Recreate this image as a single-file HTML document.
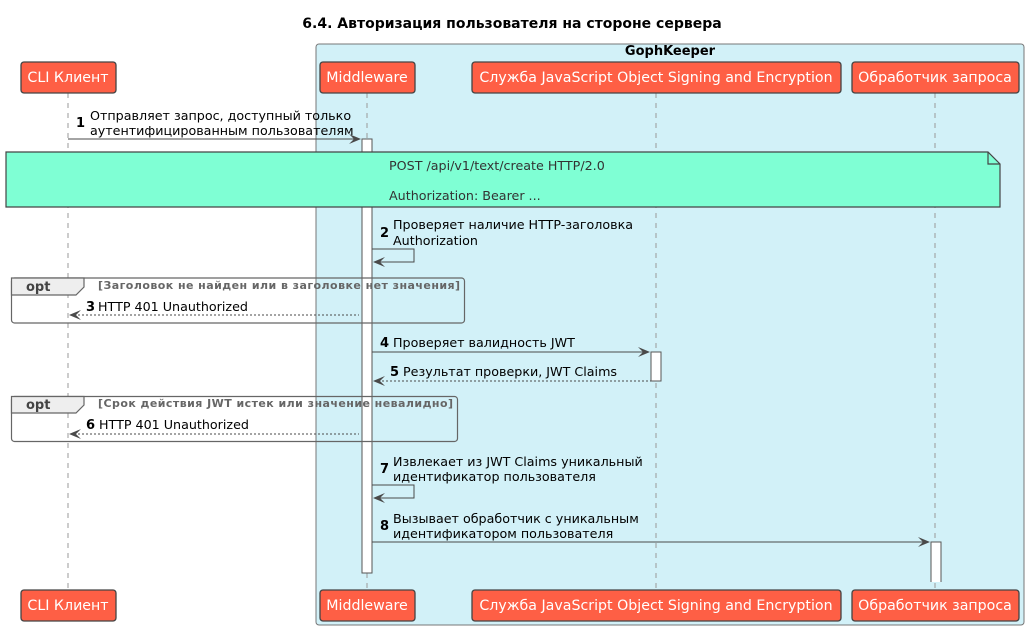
<!DOCTYPE html>
<html><head><meta charset="utf-8"><style>
html,body{margin:0;padding:0;background:#fff;}
svg{display:block;font-family:"DejaVu Sans","Liberation Sans",sans-serif;}
.p{fill:#fe5f45;stroke:#444;stroke-width:1.3;}
.pt{fill:#fff;font-size:14.2px;text-anchor:middle;}
.ll{stroke:#999;stroke-width:1;stroke-dasharray:5,5;}
.m{font-size:12.7px;fill:#000;}
.n{font-size:13px;font-weight:bold;fill:#000;}
.ln{stroke:#4a4a4a;stroke-width:1;fill:none;}
.dl{stroke:#4a4a4a;stroke-width:1;fill:none;stroke-dasharray:2,2;}
.ah{fill:#4a4a4a;}
.act{fill:#fff;stroke:#555;stroke-width:1;}
.opt{fill:none;stroke:#666;stroke-width:1.2;}
.cond{font-size:11px;font-weight:bold;fill:#666;letter-spacing:0.45px;}
</style></head><body>
<svg width="1029" height="630" viewBox="0 0 1029 630" xmlns="http://www.w3.org/2000/svg">
<text x="512" y="28" font-size="14" font-weight="bold" text-anchor="middle">6.4. Авторизация пользователя на стороне сервера</text>
<rect x="316" y="44" width="708" height="581" rx="3" fill="#d2f1f8" stroke="#777" stroke-width="1"/>
<text x="670" y="55" font-size="13" font-weight="bold" text-anchor="middle">GophKeeper</text>

<line class="ll" x1="68" y1="93" x2="68" y2="590"/>
<line class="ll" x1="367" y1="93" x2="367" y2="590"/>
<line class="ll" x1="656" y1="93" x2="656" y2="590"/>
<line class="ll" x1="935" y1="93" x2="935" y2="590"/>

<g>
<rect class="p" x="21" y="62" width="95" height="31" rx="3"/><text class="pt" x="68" y="82">CLI Клиент</text>
<rect class="p" x="320" y="62" width="95" height="31" rx="3"/><text class="pt" x="367" y="82">Middleware</text>
<rect class="p" x="472" y="62" width="369" height="31" rx="3"/><text class="pt" x="656" y="82">Служба JavaScript Object Signing and Encryption</text>
<rect class="p" x="852" y="62" width="167" height="31" rx="3"/><text class="pt" x="935" y="82">Обработчик запроса</text>
<rect class="p" x="21" y="590" width="95" height="31" rx="3"/><text class="pt" x="68" y="610">CLI Клиент</text>
<rect class="p" x="320" y="590" width="95" height="31" rx="3"/><text class="pt" x="367" y="610">Middleware</text>
<rect class="p" x="472" y="590" width="369" height="31" rx="3"/><text class="pt" x="656" y="610">Служба JavaScript Object Signing and Encryption</text>
<rect class="p" x="852" y="590" width="167" height="31" rx="3"/><text class="pt" x="935" y="610">Обработчик запроса</text>
</g>

<rect class="act" x="362" y="139" width="10" height="434"/>
<rect class="act" x="651" y="352" width="10" height="29"/>
<path d="M931 582 V542 H941 V582" fill="#fff" stroke="#555"/>

<text class="n" x="76" y="127">1</text>
<text class="m" x="90" y="120">Отправляет запрос, доступный только</text>
<text class="m" x="90" y="135">аутентифицированным пользователям</text>
<line class="ln" x1="68" y1="139" x2="360" y2="139"/>
<path class="ah" d="M361 139 L349 134 L354 139 L349 144 Z"/>

<path d="M6 152 H988 L1000 164 V207 H6 Z" fill="#7fffd4" stroke="#444" stroke-width="1.2"/>
<path d="M988 152 V164 H1000" fill="none" stroke="#444" stroke-width="1.2"/>
<text x="389" y="170" font-size="12.7" fill="#333">POST /api/v1/text/create HTTP/2.0</text>
<text x="389" y="200" font-size="12.7" fill="#333">Authorization: Bearer ...</text>

<text class="n" x="380" y="237">2</text>
<text class="m" x="393" y="229">Проверяет наличие HTTP-заголовка</text>
<text class="m" x="393" y="245">Authorization</text>
<path class="ln" d="M372 249 H414 V262 H374"/>
<path class="ah" d="M373 262 L385 257 L380 262 L385 267 Z"/>

<rect class="opt" x="11.5" y="278" width="453" height="45" rx="3"/>
<path d="M11.5 278 H84 V287 L76 295 H11.5 Z" fill="#eee" stroke="#666" stroke-width="1.2"/>
<text x="26" y="291" font-size="13" font-weight="bold" fill="#444">opt</text>
<text class="cond" x="98" y="289">[Заголовок не найден или в заголовке нет значения]</text>
<text class="n" x="86" y="311">3</text>
<text class="m" x="98" y="311">HTTP 401 Unauthorized</text>
<line class="dl" x1="70" y1="315" x2="359" y2="315"/>
<path class="ah" d="M69 315 L81 310 L76 315 L81 320 Z"/>

<text class="n" x="380" y="347">4</text>
<text class="m" x="393" y="347">Проверяет валидность JWT</text>
<line class="ln" x1="372" y1="352" x2="649" y2="352"/>
<path class="ah" d="M650 352 L638 347 L643 352 L638 357 Z"/>

<text class="n" x="390" y="376">5</text>
<text class="m" x="403" y="376">Результат проверки, JWT Claims</text>
<line class="dl" x1="374" y1="381" x2="651" y2="381"/>
<path class="ah" d="M373 381 L385 376 L380 381 L385 386 Z"/>

<rect class="opt" x="11.5" y="396.5" width="446" height="45" rx="3"/>
<path d="M11.5 396.5 H84 V405 L76 413 H11.5 Z" fill="#eee" stroke="#666" stroke-width="1.2"/>
<text x="26" y="409" font-size="13" font-weight="bold" fill="#444">opt</text>
<text class="cond" x="98" y="407">[Срок действия JWT истек или значение невалидно]</text>
<text class="n" x="86" y="429">6</text>
<text class="m" x="99" y="429">HTTP 401 Unauthorized</text>
<line class="dl" x1="70" y1="434" x2="359" y2="434"/>
<path class="ah" d="M69 434 L81 429 L76 434 L81 439 Z"/>

<text class="n" x="380" y="473">7</text>
<text class="m" x="393" y="466">Извлекает из JWT Claims уникальный</text>
<text class="m" x="393" y="481">идентификатор пользователя</text>
<path class="ln" d="M372 485 H414 V498 H374"/>
<path class="ah" d="M373 498 L385 493 L380 498 L385 503 Z"/>

<text class="n" x="380" y="530">8</text>
<text class="m" x="393" y="523">Вызывает обработчик с уникальным</text>
<text class="m" x="393" y="538">идентификатором пользователя</text>
<line class="ln" x1="372" y1="542" x2="929" y2="542"/>
<path class="ah" d="M930 542 L918 537 L923 542 L918 547 Z"/>
</svg>
</body></html>
